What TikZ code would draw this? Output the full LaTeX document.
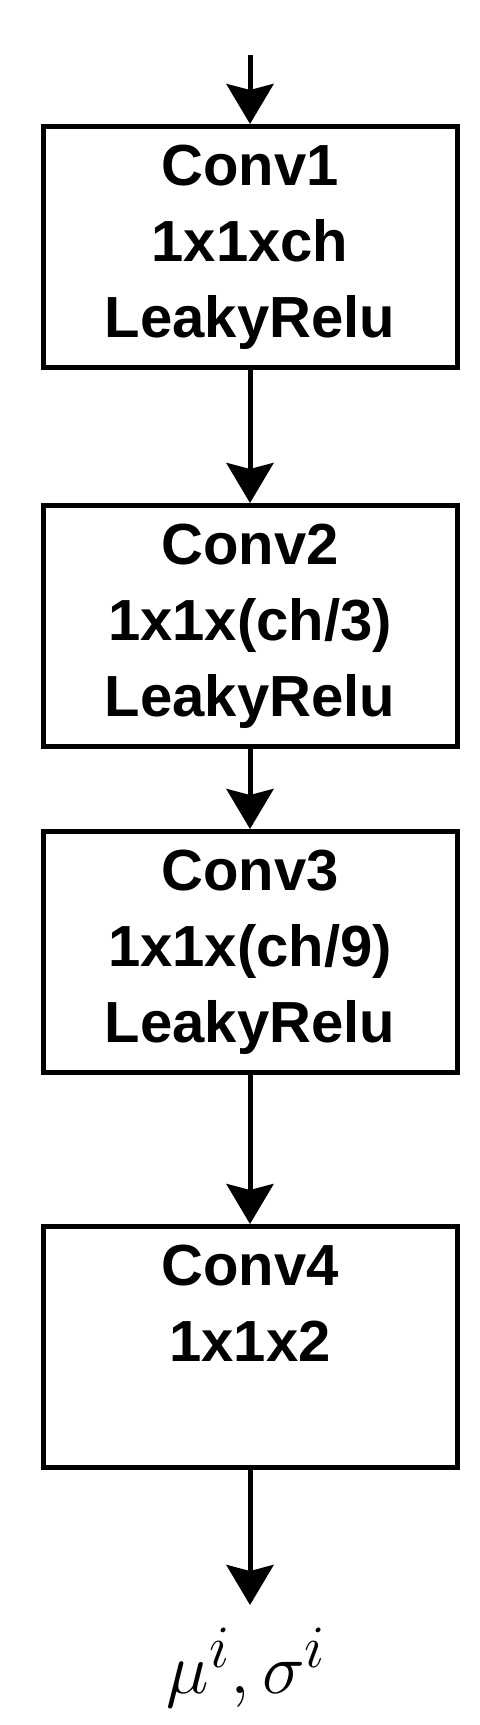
\documentclass[tikz,border=0pt]{standalone}
\usepackage{amsmath,amssymb}
\usepackage[no-math]{fontspec}
\setmainfont{Liberation Sans}
\usepackage{tikz}
\usetikzlibrary{arrows.meta,positioning}
\tikzset{
  flowarr/.style={-{Stealth[length=0.8cm, width=0.94cm, inset=0.12cm]}, line width=0.1cm},
  convbox/.style={draw, line width=0.1cm, rectangle, inner sep=0pt,
              minimum width=8.28cm, minimum height=4.82cm, align=center,
              font=\fontsize{33}{43.2}\selectfont\bfseries},
}
\begin{document}
\begin{tikzpicture}
 \useasboundingbox (0,0) rectangle (9.58,-34.5);
 \foreach \n/\y/\txt in {%
   1/-4.94/{Conv1\\1x1xch\\LeakyRelu},
   2/-12.52/{Conv2\\1x1x(ch/3)\\LeakyRelu},
   3/-19.04/{Conv3\\1x1x(ch/9)\\LeakyRelu},
   4/-26.94/{Conv4\\1x1x2\\\phantom{Ly}}}
 {
   \node[convbox] (c\n) at (5.0,\y) {\txt};
 }
 \coordinate (in) at (5.0,-1.1);
 \node[anchor=north, inner sep=0.27cm, scale=1.65, font=\Huge] (out) at (4.93,-32.1) {$\mu^i, \sigma^i$};
 % connectors
 \draw[flowarr] (in) -- (c1.north);
 \draw[flowarr] (c1) -- (c2);
 \draw[flowarr] (c2) -- (c3);
 \draw[flowarr] (c3) -- (c4);
 \draw[flowarr] (c4.south) -- (out.north -| c4.south);
\end{tikzpicture}
\end{document}
